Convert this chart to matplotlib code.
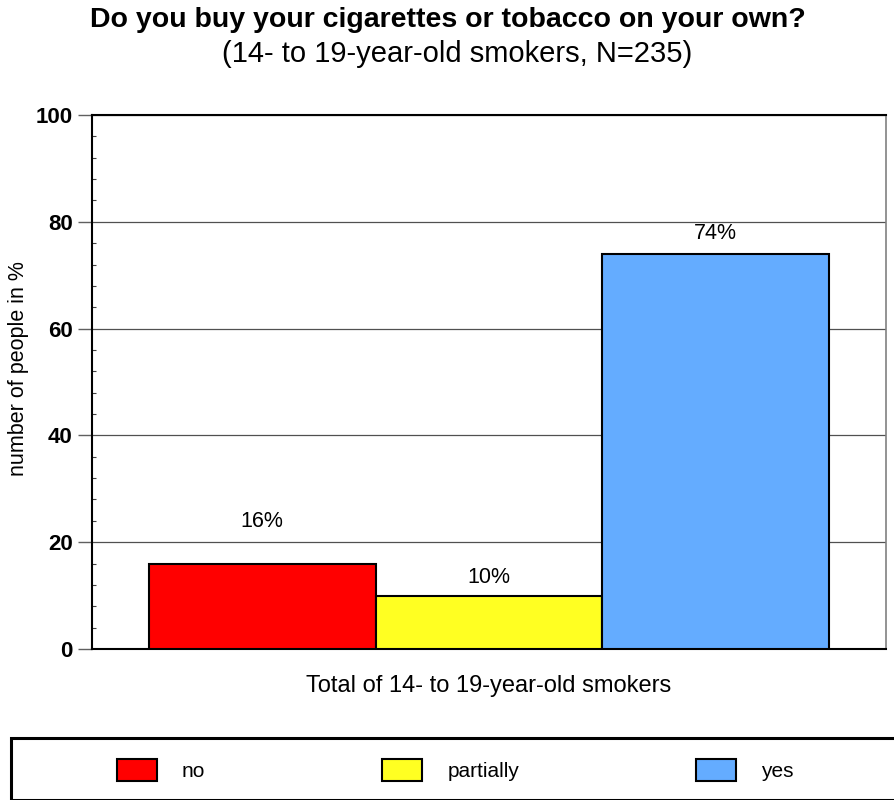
import matplotlib
matplotlib.use("Agg")
import matplotlib.pyplot as plt
from matplotlib.patches import Patch, Rectangle
from matplotlib.ticker import MultipleLocator

plt.rcParams['font.family'] = ['Liberation Sans', 'DejaVu Sans']

categories = ["no", "partially", "yes"]
values = [16, 10, 74]
labels = ["16%", "10%", "74%"]
colors = ["#ff0000", "#ffff22", "#64acff"]
yticks = [0, 20, 40, 60, 80, 100]
label_offsets = [30, 12.7, 14.4]  # points above bar top (text centre)

W, H = 894, 800
fig = plt.figure(figsize=(W/100, H/100), dpi=100)
ax = fig.add_axes([92/W, 1-649/H, (886-92)/W, (649-115)/H])

x = list(range(len(categories)))
bars = ax.bar(x, values, width=1.0, color=colors, edgecolor="black", linewidth=1.5, zorder=3)
ax.set_xlim(-0.75, 2.75)
ax.set_ylim(0, 100)
ax.set_yticks(yticks)
ax.set_yticklabels([str(t) for t in yticks], fontsize=16, fontweight="bold")
ax.yaxis.set_minor_locator(MultipleLocator(4))
ax.tick_params(axis="y", which="major", direction="out", length=10, width=1, color="#606060", pad=4)
ax.tick_params(axis="y", which="minor", direction="in", length=3, width=0.8, color="#404040")
ax.set_xticks([])
ax.grid(axis="y", color="#505050", linewidth=0.9, zorder=0)
for s in ["left", "bottom", "top"]:
    ax.spines[s].set_color("black")
    ax.spines[s].set_linewidth(1.5)
ax.spines["right"].set_color("#808080")
ax.spines["right"].set_linewidth(1.2)

for b, lab, off in zip(bars, labels, label_offsets):
    ax.annotate(lab, (b.get_x() + b.get_width()/2, b.get_height()),
                xytext=(0, off), textcoords="offset points",
                ha="center", va="center", fontsize=15.5)

ax.set_ylabel("number of people in %", fontsize=15.5, va="center")
ax.yaxis.set_label_coords((19-92)/794, (649-369)/534)
fig.text((92+886)/2/W, 1 - 692/H, "Total of 14- to 19-year-old smokers",
         ha="center", va="baseline", fontsize=17)

fig.text(447.5/W, 1 - 27/H, "Do you buy your cigarettes or tobacco on your own?",
         ha="center", va="baseline", fontsize=20.5, fontweight="bold")
fig.text(457/W, 1 - 62/H, "(14- to 19-year-old smokers, N=235)",
         ha="center", va="baseline", fontsize=21)

# legend box
fig.patches.append(Rectangle((11/W, 0.0), 1.0, (800-738)/H,
                             transform=fig.transFigure, fill=False,
                             edgecolor="black", linewidth=2.2, clip_on=False))
handles = [Patch(facecolor=c, edgecolor="black", linewidth=1.5) for c in colors]
fig.legend(handles, categories, loc="center left", ncol=3,
           bbox_to_anchor=(117/W, 1 - 770/H), frameon=False,
           borderpad=0, borderaxespad=0,
           fontsize=15, handlelength=1.92, handleheight=1.25, handletextpad=1.2,
           columnspacing=8.5)

fig.savefig("out.png", dpi=100)
